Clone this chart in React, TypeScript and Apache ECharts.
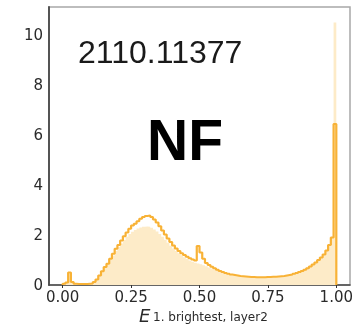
import React, { useEffect, useRef } from "react";
import * as echarts from "echarts";

// Histogram binning (100 bins on [0, 1])
const binStart = 0;
const binWidth = 0.01;

// Step-line histogram (orange outline)
const lineValues = [
  0.05, 0.1, 0.5, 0.12, 0.05, 0.04, 0.04, 0.04, 0.04, 0.05,
  0.06, 0.12, 0.22, 0.38, 0.55, 0.72, 0.85, 1.05, 1.25, 1.45,
  1.6, 1.78, 1.95, 2.1, 2.25, 2.38, 2.45, 2.55, 2.65, 2.72,
  2.76, 2.78, 2.72, 2.62, 2.5, 2.35, 2.18, 2.02, 1.86, 1.72,
  1.58, 1.46, 1.36, 1.27, 1.2, 1.13, 1.07, 1.02, 0.98, 1.56,
  1.3, 1.05, 0.88, 0.8, 0.73, 0.67, 0.61, 0.56, 0.52, 0.48,
  0.45, 0.42, 0.4, 0.38, 0.36, 0.35, 0.34, 0.33, 0.32, 0.32,
  0.31, 0.31, 0.31, 0.31, 0.32, 0.32, 0.33, 0.33, 0.34, 0.35,
  0.36, 0.38, 0.4, 0.42, 0.45, 0.48, 0.52, 0.56, 0.61, 0.67,
  0.74, 0.82, 0.9, 1.0, 1.1, 1.22, 1.38, 1.6, 1.9, 6.44,
];

// Filled histogram (light orange)
const fillValues = [
  0.05, 0.1, 0.45, 0.12, 0.05, 0.04, 0.04, 0.04, 0.04, 0.05,
  0.06, 0.12, 0.21, 0.36, 0.53, 0.69, 0.82, 1.0, 1.18, 1.36,
  1.52, 1.66, 1.8, 1.93, 2.04, 2.13, 2.2, 2.26, 2.3, 2.33,
  2.34, 2.33, 2.29, 2.22, 2.14, 2.04, 1.93, 1.81, 1.69, 1.57,
  1.46, 1.36, 1.27, 1.19, 1.11, 1.04, 0.98, 0.93, 0.89, 0.86,
  0.83, 0.79, 0.75, 0.7, 0.66, 0.62, 0.58, 0.54, 0.51, 0.48,
  0.45, 0.42, 0.4, 0.38, 0.36, 0.35, 0.34, 0.33, 0.32, 0.32,
  0.31, 0.31, 0.31, 0.31, 0.32, 0.32, 0.33, 0.33, 0.34, 0.35,
  0.36, 0.38, 0.4, 0.42, 0.45, 0.48, 0.52, 0.56, 0.61, 0.67,
  0.74, 0.82, 0.9, 1.0, 1.1, 1.22, 1.38, 1.6, 1.9, 10.5,
];

const xTicks = [0, 0.25, 0.5, 0.75, 1];
const yTicks = [0, 2, 4, 6, 8, 10];

const idText = "2110.11377";
const tagText = "NF";
const xTitleMain = "E";
const xTitleSub = "1. brightest, layer2";

function toSteps(values: number[]): number[][] {
  const pts: number[][] = [[binStart, 0]];
  values.forEach((v, i) => pts.push([binStart + i * binWidth, v]));
  const end = binStart + values.length * binWidth;
  pts.push([end, values[values.length - 1]]);
  pts.push([end, 0]);
  return pts;
}

export default function App() {
  const ref = useRef<HTMLDivElement>(null);
  useEffect(() => {
    if (!ref.current) return;
    const chart = echarts.init(ref.current, undefined, { renderer: "svg" });
    const tickFont = "'DejaVu Sans', sans-serif";
    chart.setOption({
      animation: false,
      grid: {
        left: 49,
        top: 7,
        width: 301,
        height: 278,
        show: true,
        borderColor: "#a8a8a8",
        borderWidth: 1.5,
        backgroundColor: "transparent",
      },
      xAxis: {
        type: "value",
        min: -0.05,
        max: 1.05,
        splitLine: { show: false },
        axisLine: { show: true, onZero: false, lineStyle: { color: "#4a4a4a", width: 1.5 } },
        axisTick: { show: true, length: 3, customValues: xTicks, lineStyle: { color: "#333" } },
        axisLabel: {
          customValues: xTicks,
          formatter: (v: number) => v.toFixed(2),
          color: "#2a2a2a",
          fontFamily: tickFont,
          fontSize: 15,
          lineHeight: 15,
          margin: 4,
        },
      },
      yAxis: {
        type: "value",
        min: 0,
        max: 11.12,
        splitLine: { show: false },
        axisLine: { show: true, onZero: false, lineStyle: { color: "#4a4a4a", width: 1.8 } },
        axisTick: { show: false, customValues: yTicks },
        axisLabel: {
          customValues: yTicks,
          color: "#2a2a2a",
          fontFamily: tickFont,
          fontSize: 15,
          margin: 6,
        },
      },
      series: [
        {
          type: "line",
          step: "end",
          data: toSteps(fillValues),
          symbol: "none",
          lineStyle: { width: 0 },
          areaStyle: { color: "#fdebc8", opacity: 1 },
          z: 1,
        },
        {
          type: "line",
          step: "end",
          data: toSteps(lineValues),
          symbol: "none",
          lineStyle: { width: 2.2, color: "#f8b236" },
          z: 2,
        },
      ],
      graphic: [
        {
          type: "text",
          left: 78,
          top: 36,
          style: {
            text: idText,
            font: "32px 'Liberation Sans', Arial, sans-serif",
            fill: "#1a1a1a",
          },
        },
        {
          type: "text",
          left: 147,
          top: 111,
          style: {
            text: tagText,
            font: "bold 57px 'Liberation Sans', Arial, sans-serif",
            fill: "#000",
          },
        },
        {
          type: "text",
          left: 139,
          top: 306,
          style: {
            text: xTitleMain,
            font: "italic 18px 'DejaVu Sans', sans-serif",
            lineHeight: 18,
            fill: "#2a2a2a",
          },
        },
        {
          type: "text",
          left: 153,
          top: 311,
          style: {
            text: xTitleSub,
            font: "12px 'DejaVu Sans', sans-serif",
            lineHeight: 12,
            fill: "#2a2a2a",
          },
        },
      ],
    });
    return () => chart.dispose();
  }, []);
  return (
    <div
      ref={ref}
      style={{ position: "fixed", left: 0, top: 0, width: 357, height: 326 }}
    />
  );
}
